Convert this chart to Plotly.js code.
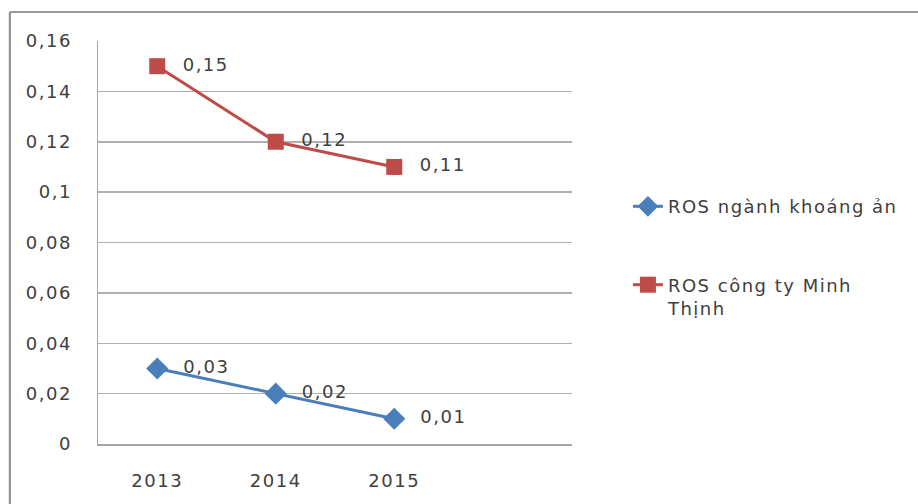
<!DOCTYPE html>
<html>
<head>
<meta charset="utf-8">
<script src="https://cdn.plot.ly/plotly-3.0.1.min.js"></script>
<style>
  html, body { margin: 0; padding: 0; background: #ffffff; }
  #chart { width: 918px; height: 504px; }
  /* slightly open lettering for all chart text (also used when text is measured) */
  svg text { letter-spacing: 1.5px; }
</style>
</head>
<body>
<div id="chart"></div>
<script>
// Years on the category axis
const years = ['2013', '2014', '2015'];

// Return on sales for the mining sector and for Minh Thinh company
const rosIndustry = [0.03, 0.02, 0.01];
const rosCompany = [0.15, 0.12, 0.11];

const industryName = 'ROS ngành khoáng ản';
const companyName = 'ROS công ty Minh<br>Thịnh';

// Value axis ticks, written with a decimal comma
const yTickVals = [0, 0.02, 0.04, 0.06, 0.08, 0.1, 0.12, 0.14, 0.16];
const yTickText = ['0', '0,02', '0,04', '0,06', '0,08', '0,1', '0,12', '0,14', '0,16'];

// point labels: decimal comma, pushed a little right of the marker
const fmt = v => '\u00a0\u00a0' + String(v).replace('.', ',');
const textColor = '#404040';
const fontFamily = 'DejaVu Sans, Open Sans, sans-serif';
const fontSize = 18;
const labelFont = { family: fontFamily, size: fontSize, color: textColor };

const traces = [
  {
    x: years, y: rosIndustry, name: industryName, legendgroup: 'a',
    mode: 'lines+markers+text',
    text: rosIndustry.map(fmt), textposition: 'middle right',
    textfont: labelFont,
    line: { color: '#4a7ebb', width: 3 },
    marker: { symbol: 'diamond', size: 17, color: '#4a7ebb' },
    cliponaxis: false
  },
  {
    x: years, y: rosCompany, name: companyName, legendgroup: 'b',
    mode: 'lines+markers+text',
    text: rosCompany.map(fmt), textposition: 'middle right',
    textfont: labelFont,
    line: { color: '#be4b48', width: 3 },
    marker: { symbol: 'square', size: 16, color: '#be4b48' },
    cliponaxis: false
  }
];

const layout = {
  width: 918, height: 504,
  margin: { l: 98, r: 346, t: 41, b: 60 },
  paper_bgcolor: '#ffffff', plot_bgcolor: '#ffffff',
  font: { family: fontFamily, size: fontSize, color: textColor },
  showlegend: true,
  legend: {
    x: 1.118, y: 0.635, xanchor: 'left', yanchor: 'top',
    font: { size: fontSize, color: textColor },
    tracegroupgap: 52, valign: 'top',
    traceorder: 'grouped'
  },
  xaxis: {
    type: 'category', range: [-0.5, 3.5],
    showgrid: false, zeroline: false,
    showline: true, linecolor: '#a6a6a6', linewidth: 1.5,
    ticks: '', ticklabelstandoff: 20,
    tickfont: { size: fontSize, color: textColor }
  },
  yaxis: {
    range: [0, 0.16], tickvals: yTickVals, ticktext: yTickText,
    showgrid: true, gridcolor: '#b0b0b0', gridwidth: 1.5,
    zeroline: false, showline: true, linecolor: '#a6a6a6', linewidth: 1.5,
    ticks: '', ticklabelstandoff: 21,
    tickfont: { size: fontSize, color: textColor }
  },
  shapes: [
    // outer chart frame (top and left edges)
    { type: 'line', xref: 'paper', yref: 'paper', x0: -0.186, x1: 1.8, y0: 1.072, y1: 1.072,
      line: { color: '#9a9a9a', width: 2 } },
    { type: 'line', xref: 'paper', yref: 'paper', x0: -0.186, x1: -0.186, y0: 1.072, y1: -0.16,
      line: { color: '#8a8a8a', width: 2 } }
  ]
};

Plotly.newPlot('chart', traces, layout, { displayModeBar: false, staticPlot: true });
</script>
</body>
</html>
